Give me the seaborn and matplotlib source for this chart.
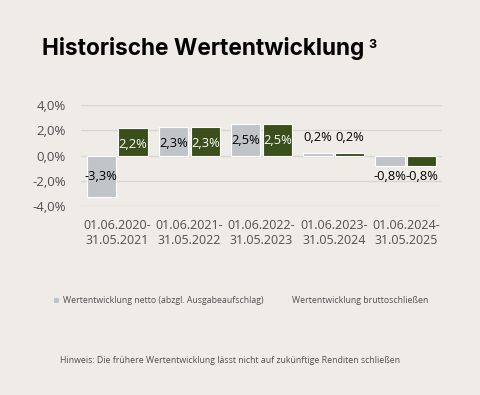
import matplotlib
matplotlib.use("Agg")
import matplotlib.pyplot as plt
import matplotlib.patches as mpatches
import pandas as pd
import seaborn as sns

periods = [
    "01.06.2020-\n31.05.2021",
    "01.06.2021-\n31.05.2022",
    "01.06.2022-\n31.05.2023",
    "01.06.2023-\n31.05.2024",
    "01.06.2024-\n31.05.2025",
]
netto = [-3.3, 2.3, 2.5, 0.2, -0.8]
brutto = [2.2, 2.3, 2.5, 0.2, -0.8]
series_names = ["Wertentwicklung netto (abzgl. Ausgabeaufschlag)", "Wertentwicklung bruttoschließen"]
y_ticks = [-4, -2, 0, 2, 4]

BG = "#efece8"
GREY = "#bec3ca"
GREEN = "#3d5715"
TXT = "#4f4f4f"

df = pd.DataFrame({
    "Zeitraum": periods * 2,
    "Serie": [series_names[0]] * len(periods) + [series_names[1]] * len(periods),
    "Wert": netto + brutto,
})

sns.set_theme(style="white")
plt.rcParams["font.family"] = ["Open Sans", "DejaVu Sans"]

fig = plt.figure(figsize=(4.8, 3.95), dpi=100, facecolor=BG)
ax = fig.add_axes([0.169, 0.478, 0.752, 0.256])
ax.set_facecolor(BG)

sns.barplot(
    data=df, x="Zeitraum", y="Wert", hue="Serie", order=periods,
    hue_order=series_names, palette=[GREY, GREEN], width=0.88, gap=0.08,
    edgecolor="white", linewidth=0.8, ax=ax, legend=False, zorder=3,
)

ax.set_ylim(-4, 4)
ax.set_yticks(y_ticks)
ax.set_yticklabels([f"{v:.1f}".replace(".", ",") + "%" for v in y_ticks])
ax.yaxis.grid(True, color="#d8d6d2", linewidth=1, zorder=0)
ax.set_axisbelow(True)
for s in ax.spines.values():
    s.set_visible(False)
ax.tick_params(axis="y", length=0, pad=11, labelsize=9.5, labelcolor=TXT)
ax.tick_params(axis="x", length=0, pad=9, labelsize=9, labelcolor=TXT)
ax.set_xlabel("")
ax.set_ylabel("")

# data labels
for cont, dark in zip(ax.containers, [False, True]):
    for bar in cont:
        v = bar.get_height() if bar.get_y() >= 0 else bar.get_y()
        xc = bar.get_x() + bar.get_width() / 2
        if abs(v) >= 1:
            off = -12 if v > 0 else 15
            col = "white" if dark else "black"
        else:
            off = 11 if v > 0 else -8
            col = "black"
        ax.annotate(f"{v:.1f}".replace(".", ",") + "%", (xc, v), xytext=(0, off),
                    textcoords="offset points", ha="center", va="center",
                    fontsize=9.3, color=col, zorder=5)

fig.text(0.0875, 0.861, "Historische Wertentwicklung", fontsize=16.3, fontweight="bold",
         family=["Inter", "DejaVu Sans"], color="black", va="baseline")
fig.text(0.768, 0.878, "3", fontsize=9, fontweight="bold",
         family=["Inter", "DejaVu Sans"], color="black", va="baseline")

# legend
fig.add_artist(mpatches.Rectangle((0.1125, 0.234), 0.0105, 0.0128, transform=fig.transFigure,
                                  facecolor=GREY, edgecolor="none"))
fig.text(0.131, 0.238, series_names[0], fontsize=6.35, color=TXT, va="center")
fig.text(0.608, 0.240, series_names[1], fontsize=6.3, color=TXT, va="center")

fig.text(0.125, 0.088, "Hinweis: Die frühere Wertentwicklung lässt nicht auf zukünftige Renditen schließen",
         fontsize=6.3, color=TXT, va="center")

fig.savefig("out.png", dpi=100, facecolor=BG)
